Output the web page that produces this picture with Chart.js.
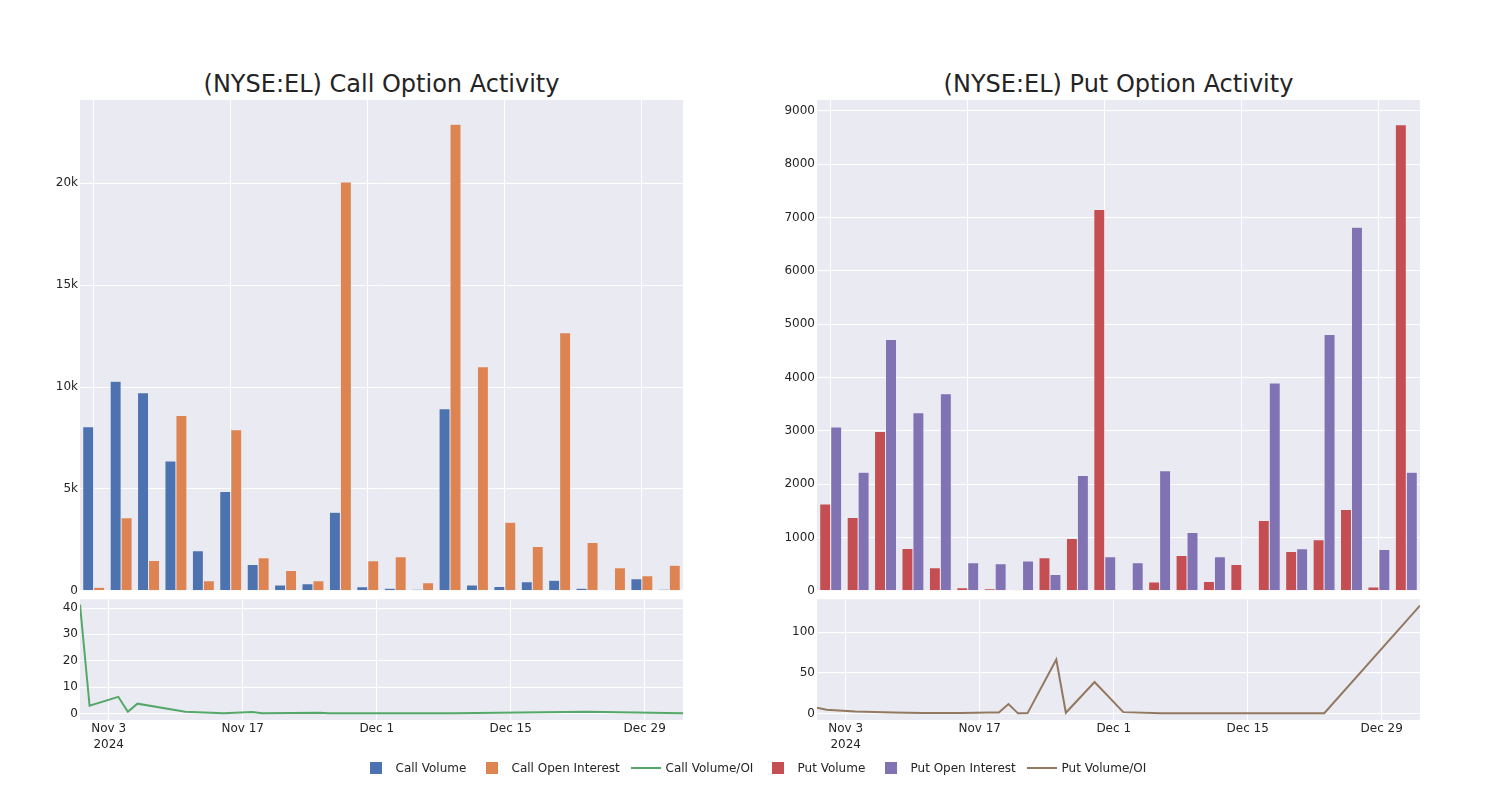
<!DOCTYPE html>
<html>
<head>
<meta charset="utf-8">
<script src="https://cdn.jsdelivr.net/npm/chart.js@4.4.1/dist/chart.umd.min.js"></script>
<style>
  html, body { margin:0; padding:0; background:#fff; }
  body { width:1500px; height:800px; position:relative; overflow:hidden; font-family:"DejaVu Sans", sans-serif; color:rgb(36,36,36); }
  canvas { position:absolute; }
  .title { position:absolute; width:603px; text-align:center; font-size:24px; line-height:30px; top:69px; color:rgb(36,36,36); }
  .leg { position:absolute; top:760px; height:16px; font-size:12px; line-height:16px; white-space:nowrap; }
  .sq { position:absolute; width:12px; height:12px; top:2px; }
  .ln { position:absolute; width:30px; height:2px; top:7px; }
</style>
</head>
<body>
<div class="title" style="left:80px">(NYSE:EL) Call Option Activity</div>
<div class="title" style="left:817px">(NYSE:EL) Put Option Activity</div>

<canvas id="callBars" width="700" height="510" style="left:0;top:90px"></canvas>
<canvas id="callLine" width="700" height="170" style="left:0;top:590px"></canvas>
<canvas id="putBars" width="700" height="510" style="left:737px;top:90px"></canvas>
<canvas id="putLine" width="700" height="170" style="left:737px;top:590px"></canvas>

<div id="legend"></div>

<script>
// ---------- data ----------
const barDates = ['2024-10-31','2024-11-01','2024-11-04','2024-11-05','2024-11-06','2024-11-11','2024-11-15','2024-11-18','2024-11-19','2024-11-25','2024-11-26','2024-11-29','2024-12-02','2024-12-06','2024-12-09','2024-12-13','2024-12-16','2024-12-18','2024-12-19','2024-12-20','2024-12-23','2025-01-02'];
const callVolume = [8050, 10280, 9720, 6370, 1960, 4880, 1290, 280, 340, 3850, 200, 130, 80, 8940, 290, 210, 440, 520, 130, 50, 590, 80];
const callOpenInterest = [180, 3580, 1490, 8610, 490, 7900, 1620, 1000, 490, 20070, 1470, 1670, 390, 22900, 11000, 3370, 2180, 12670, 2370, 1130, 740, 1260];
const putVolume = [1626, 1376, 2989, 794, 431, 56, 38, 19, 619, 982, 7154, 8, 163, 663, 175, 494, 1320, 738, 957, 1526, 69, 8743];
const putOpenInterest = [3071, 2226, 4715, 3340, 3696, 525, 507, 557, 306, 2164, 638, 525, 2251, 1094, 638, 7, 3896, 788, 4809, 6817, 775, 2226];

const callRatioDates = ['2024-10-31','2024-11-01','2024-11-04','2024-11-05','2024-11-06','2024-11-11','2024-11-15','2024-11-18','2024-11-19','2024-11-25','2024-11-26','2024-12-02','2024-12-09','2024-12-16','2024-12-23','2025-01-02'];
const callRatioValues = [41.3, 2.9, 6.3, 0.6, 3.7, 0.6, 0.1, 0.5, 0.05, 0.25, 0.02, 0.05, 0.1, 0.35, 0.6, 0.05];

const putRatioDates = ['2024-10-31','2024-11-01','2024-11-04','2024-11-08','2024-11-11','2024-11-15','2024-11-18','2024-11-19','2024-11-20','2024-11-21','2024-11-22','2024-11-25','2024-11-26','2024-11-29','2024-12-02','2024-12-06','2024-12-13','2024-12-23','2025-01-02'];
const putRatioValues = [6.9, 4.6, 2.4, 1.0, 0.5, 0.4, 1.2, 1.2, 11.5, 0.1, 0.4, 66.5, 0.8, 38.7, 1.6, 0.3, 0.2, 0.2, 133];

const dateTicks = ['2024-11-03','2024-11-17','2024-12-01','2024-12-15','2024-12-29'];
const dateTickLabels = [['Nov 3','2024'], 'Nov 17', 'Dec 1', 'Dec 15', 'Dec 29'];
const dateRange = ['2024-10-31','2025-01-02'];

const callBarTicks = [0, 5000, 10000, 15000, 20000];
const callBarTickLabels = ['0', '5k', '10k', '15k', '20k'];
const putBarTicks = [0, 1000, 2000, 3000, 4000, 5000, 6000, 7000, 8000, 9000];
const callLineTicks = [0, 10, 20, 30, 40];
const putLineTicks = [0, 50, 100];

// ---------- style ----------
const TXT = 'rgb(36,36,36)';
const BG = 'rgb(234,234,242)';
const COLORS = {
  callVol: 'rgb(76,114,176)', callOI: 'rgb(221,132,82)', callRatio: 'rgb(85,168,104)',
  putVol: 'rgb(196,78,82)', putOI: 'rgb(129,114,179)', putRatio: 'rgb(147,120,96)'
};
const FONT = { family: '"DejaVu Sans", sans-serif', size: 12 };

Chart.defaults.font.family = FONT.family;
Chart.defaults.color = TXT;

const DAY = 86400000;
const t0 = Date.parse(dateRange[0] + 'T00:00:00Z');
const dayOf = s => (Date.parse(s + 'T00:00:00Z') - t0) / DAY;

const bgPlugin = {
  id: 'plotBg',
  beforeDraw(chart) {
    const { ctx, chartArea: a } = chart;
    ctx.save();
    ctx.fillStyle = BG;
    ctx.fillRect(a.left, a.top, a.right - a.left, a.bottom - a.top);
    ctx.restore();
  }
};

function fixedTicks(values) {
  return scale => { scale.ticks = values.map(v => ({ value: v })); };
}

function barChart(id, labels, d1, d2, c1, c2, yMax, ticks, tickLabels) {
  return new Chart(document.getElementById(id), {
    type: 'bar',
    data: {
      labels: labels,
      datasets: [
        { data: d1, backgroundColor: c1, borderColor: BG, borderWidth: 0.5, categoryPercentage: 0.8, barPercentage: 1.0 },
        { data: d2, backgroundColor: c2, borderColor: BG, borderWidth: 0.5, categoryPercentage: 0.8, barPercentage: 1.0 }
      ]
    },
    plugins: [bgPlugin],
    options: {
      responsive: false, animation: false, devicePixelRatio: 1,
      layout: { padding: { top: 10, right: 17, bottom: 0, left: 0 } },
      plugins: { legend: { display: false }, tooltip: { enabled: false } },
      scales: {
        x: {
          type: 'category', offset: true,
          ticks: { display: false },
          grid: { display: true, offset: false, drawTicks: false, lineWidth: 1,
                  color: c => (c.index % 5 === 0 ? '#ffffff' : 'rgba(0,0,0,0)') },
          border: { display: false },
          afterFit: s => { s.height = 9; }
        },
        y: {
          min: 0, max: yMax,
          afterBuildTicks: fixedTicks(ticks),
          ticks: { font: FONT, color: TXT, padding: 2,
                   callback: (v, i) => (tickLabels ? tickLabels[i] : String(v)) },
          grid: { color: '#ffffff', lineWidth: 1, drawTicks: false },
          border: { display: false },
          afterFit: s => { s.width = 80; }
        }
      }
    }
  });
}

function lineChart(id, dates, values, color, yMin, yMax, ticks) {
  return new Chart(document.getElementById(id), {
    type: 'line',
    data: {
      datasets: [{
        data: dates.map((d, i) => ({ x: dayOf(d), y: values[i] })),
        borderColor: color, borderWidth: 2, pointRadius: 0, tension: 0, fill: false
      }]
    },
    plugins: [bgPlugin],
    options: {
      responsive: false, animation: false, devicePixelRatio: 1,
      layout: { padding: { top: 7, right: 17, bottom: 0, left: 0 } },
      plugins: { legend: { display: false }, tooltip: { enabled: false } },
      scales: {
        x: {
          type: 'linear', min: dayOf(dateRange[0]), max: dayOf(dateRange[1]),
          afterBuildTicks: fixedTicks(dateTicks.map(dayOf)),
          ticks: { font: { family: FONT.family, size: 12, lineHeight: 1.4 }, color: TXT, padding: 0, maxRotation: 0,
                   callback: (v, i) => dateTickLabels[i] },
          grid: { color: '#ffffff', lineWidth: 1, drawTicks: false },
          border: { display: false },
          afterFit: s => { s.height = 40; }
        },
        y: {
          min: yMin, max: yMax,
          afterBuildTicks: fixedTicks(ticks),
          ticks: { font: FONT, color: TXT, padding: 2, callback: v => String(v) },
          grid: { color: '#ffffff', lineWidth: 1, drawTicks: false },
          border: { display: false },
          afterFit: s => { s.width = 80; }
        }
      }
    }
  });
}

barChart('callBars', barDates, callVolume, callOpenInterest, COLORS.callVol, COLORS.callOI, 24090, callBarTicks, callBarTickLabels);
barChart('putBars', barDates, putVolume, putOpenInterest, COLORS.putVol, COLORS.putOI, 9206, putBarTicks, null);
lineChart('callLine', callRatioDates, callRatioValues, COLORS.callRatio, -2.5, 43.35, callLineTicks);
lineChart('putLine', putRatioDates, putRatioValues, COLORS.putRatio, -8.1, 140.9, putLineTicks);

// ---------- legend ----------
const legendNames = ['Call Volume', 'Call Open Interest', 'Call Volume/OI', 'Put Volume', 'Put Open Interest', 'Put Volume/OI'];
const legendKinds = ['sq', 'sq', 'ln', 'sq', 'sq', 'ln'];
const legendColors = [COLORS.callVol, COLORS.callOI, COLORS.callRatio, COLORS.putVol, COLORS.putOI, COLORS.putRatio];
const legendStarts = [355.5, 471.5, 625.5, 757.5, 870.5, 1021.5];
const legend = document.getElementById('legend');
legendNames.forEach((name, i) => {
  const item = document.createElement('div');
  item.className = 'leg';
  item.style.left = legendStarts[i] + 'px';
  const sym = document.createElement('div');
  sym.className = legendKinds[i];
  sym.style.background = legendColors[i];
  sym.style.left = legendKinds[i] === 'sq' ? '14px' : '5px';
  item.appendChild(sym);
  const txt = document.createElement('span');
  txt.textContent = name;
  txt.style.position = 'absolute';
  txt.style.left = '40px';
  item.appendChild(txt);
  legend.appendChild(item);
});
</script>
</body>
</html>
